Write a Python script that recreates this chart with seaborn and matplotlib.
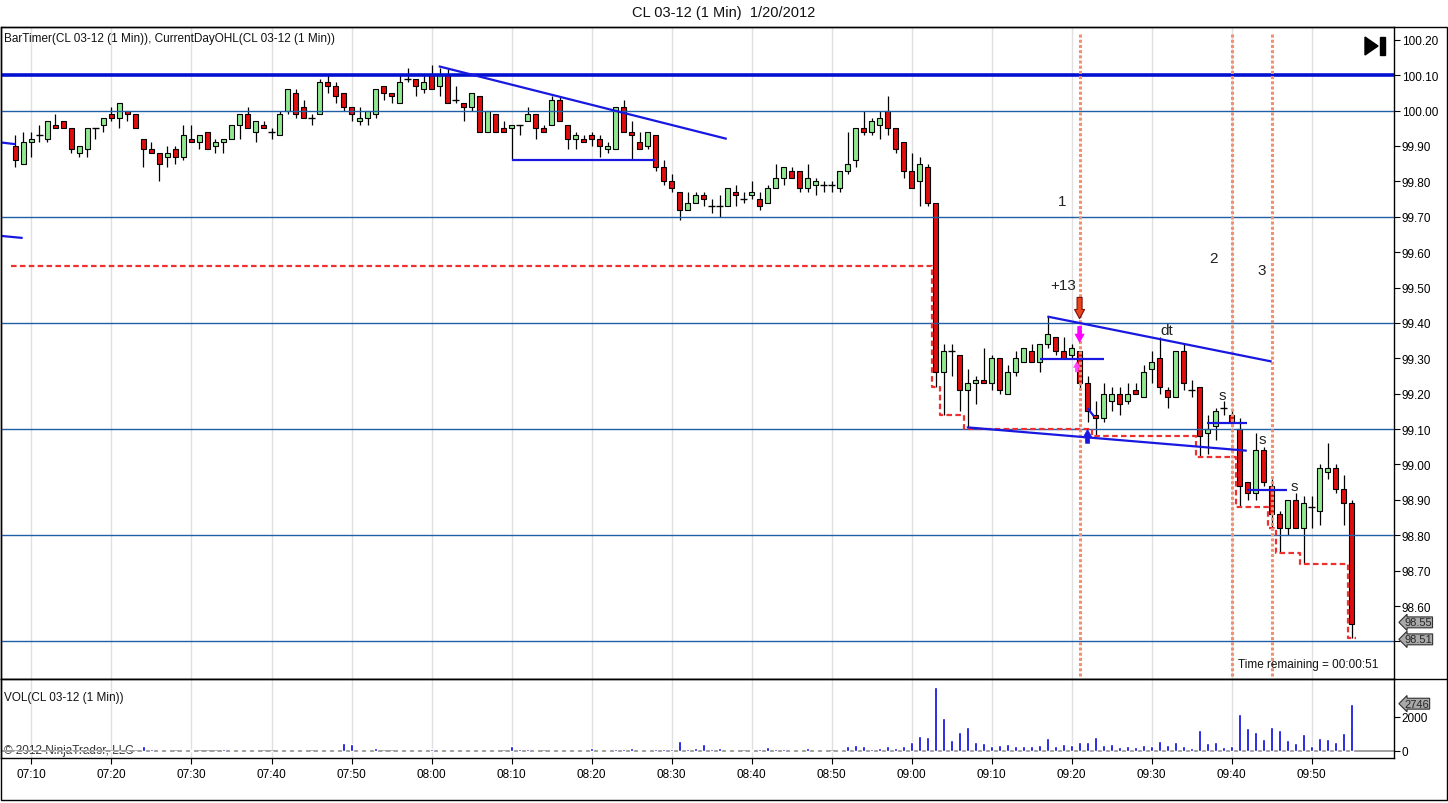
import numpy as np
import pandas as pd
import matplotlib
matplotlib.use("Agg")
import matplotlib.pyplot as plt
import matplotlib.transforms as mtransforms
from matplotlib.patches import Polygon, Rectangle
from matplotlib.lines import Line2D
import seaborn as sns

sns.set_theme(style="white")
plt.rcParams['font.family'] = ['Liberation Sans', 'DejaVu Sans']

# ---------------- data ----------------
title = "CL 03-12 (1 Min)  1/20/2012"
tick_minutes = [0, 10, 20, 30, 40, 50, 60, 70, 80, 90, 100, 110, 120, 130, 140, 150, 160]
tick_labels = ["07:10", "07:20", "07:30", "07:40", "07:50", "08:00", "08:10", "08:20", "08:30",
               "08:40", "08:50", "09:00", "09:10", "09:20", "09:30", "09:40", "09:50"]
price_ticks = [98.50, 98.60, 98.70, 98.80, 98.90, 99.00, 99.10, 99.20, 99.30, 99.40,
               99.50, 99.60, 99.70, 99.80, 99.90, 100.00, 100.10, 100.20]
price_tick_labels = ["", "98.60", "98.70", "98.80", "98.90", "99.00", "99.10", "99.20", "99.30",
                     "99.40", "99.50", "99.60", "99.70", "99.80", "99.90", "100.00", "100.10",
                     "100.20"]
first_minute = -2   # first bar is 07:08 (minutes relative to 07:10)

opens = [99.90, 99.85, 99.91, 99.93, 99.92, 99.96, 99.97, 99.95, 99.88, 99.89,
         99.95, 99.96, 99.99, 99.98, 100.00, 99.99, 99.92, 99.89, 99.88, 99.87,
         99.89, 99.87, 99.92, 99.91, 99.94, 99.90, 99.91, 99.92, 99.96, 99.99,
         99.94, 99.96, 99.94, 99.93, 100.00, 100.05, 100.01, 99.98, 99.99, 100.08,
         100.07, 100.05, 100.01, 99.97, 99.98, 99.99, 100.07, 100.05, 100.02, 100.09,
         100.09, 100.06, 100.10, 100.07, 100.10, 100.03, 100.02, 100.01, 100.04, 99.94,
         99.99, 99.95, 99.95, 99.96, 99.97, 99.99, 99.95, 99.96, 100.03, 99.96,
         99.92, 99.92, 99.93, 99.92, 99.89, 99.89, 100.01, 99.94, 99.91, 99.90,
         99.93, 99.84, 99.80, 99.77, 99.72, 99.74, 99.76, 99.73, 99.73, 99.73,
         99.77, 99.75, 99.76, 99.75, 99.74, 99.78, 99.81, 99.83, 99.83, 99.78,
         99.79, 99.79, 99.79, 99.78, 99.83, 99.86, 99.95, 99.94, 99.96, 100.00,
         99.95, 99.91, 99.83, 99.80, 99.84, 99.74, 99.26, 99.32, 99.31, 99.21,
         99.23, 99.24, 99.23, 99.30, 99.20, 99.26, 99.29, 99.32, 99.29, 99.34,
         99.36, 99.32, 99.31, 99.32, 99.23, 99.14, 99.13, 99.18, 99.20, 99.18,
         99.21, 99.19, 99.27, 99.30, 99.21, 99.19, 99.32, 99.21, 99.22, 99.09,
         99.11, 99.16, 99.14, 99.10, 98.95, 98.92, 99.04, 98.94, 98.86, 98.82,
         98.90, 98.82, 98.88, 98.87, 98.98, 98.99, 98.93, 98.89]
highs = [99.93, 99.94, 99.94, 99.96, 99.97, 99.99, 99.97, 99.95, 99.90, 99.95,
         99.95, 99.98, 100.01, 100.02, 100.00, 99.99, 99.92, 99.91, 99.88, 99.90,
         99.90, 99.96, 99.96, 99.93, 99.94, 99.92, 99.92, 99.96, 99.99, 100.01,
         99.97, 99.97, 99.95, 100.00, 100.06, 100.06, 100.03, 99.99, 100.09, 100.10,
         100.08, 100.05, 100.01, 100.01, 100.00, 100.06, 100.07, 100.05, 100.10, 100.12,
         100.09, 100.10, 100.13, 100.12, 100.12, 100.07, 100.02, 100.05, 100.04, 100.00,
         99.99, 99.97, 99.96, 99.96, 100.01, 99.99, 99.96, 100.04, 100.04, 99.96,
         99.94, 99.93, 99.94, 99.93, 99.91, 100.01, 100.03, 99.97, 99.94, 99.94,
         99.93, 99.86, 99.82, 99.77, 99.77, 99.77, 99.77, 99.75, 99.76, 99.78,
         99.79, 99.77, 99.80, 99.77, 99.79, 99.85, 99.84, 99.84, 99.83, 99.85,
         99.81, 99.80, 99.80, 99.83, 99.94, 99.95, 100.00, 99.98, 100.00, 100.04,
         99.95, 99.91, 99.88, 99.87, 99.85, 99.74, 99.34, 99.34, 99.31, 99.27,
         99.25, 99.33, 99.31, 99.30, 99.28, 99.32, 99.33, 99.34, 99.34, 99.42,
         99.36, 99.36, 99.34, 99.32, 99.25, 99.18, 99.23, 99.22, 99.22, 99.23,
         99.23, 99.28, 99.32, 99.36, 99.22, 99.32, 99.34, 99.24, 99.22, 99.14,
         99.16, 99.18, 99.15, 99.13, 98.95, 99.09, 99.05, 98.96, 98.87, 98.90,
         98.92, 98.91, 98.91, 99.00, 99.06, 99.00, 98.97, 98.90]
lows = [99.84, 99.85, 99.87, 99.91, 99.91, 99.95, 99.95, 99.88, 99.87, 99.87,
        99.92, 99.94, 99.97, 99.95, 99.97, 99.95, 99.84, 99.88, 99.80, 99.84,
        99.85, 99.86, 99.91, 99.89, 99.89, 99.88, 99.88, 99.92, 99.92, 99.95,
        99.91, 99.95, 99.92, 99.93, 99.99, 99.98, 99.98, 99.96, 99.99, 100.05,
        100.02, 100.00, 99.97, 99.96, 99.96, 99.98, 100.03, 100.02, 100.02, 100.08,
        100.04, 100.05, 100.06, 100.04, 100.02, 100.02, 99.97, 100.00, 99.94, 99.94,
        99.94, 99.94, 99.86, 99.93, 99.97, 99.92, 99.94, 99.96, 99.97, 99.89,
        99.89, 99.91, 99.90, 99.87, 99.88, 99.89, 99.94, 99.86, 99.89, 99.89,
        99.83, 99.79, 99.77, 99.69, 99.72, 99.74, 99.73, 99.71, 99.70, 99.73,
        99.73, 99.74, 99.75, 99.72, 99.74, 99.78, 99.79, 99.81, 99.77, 99.77,
        99.76, 99.77, 99.77, 99.77, 99.82, 99.84, 99.93, 99.93, 99.92, 99.93,
        99.88, 99.81, 99.78, 99.73, 99.73, 99.22, 99.14, 99.25, 99.15, 99.10,
        99.17, 99.23, 99.21, 99.20, 99.20, 99.25, 99.29, 99.29, 99.26, 99.33,
        99.31, 99.30, 99.30, 99.21, 99.12, 99.08, 99.12, 99.15, 99.14, 99.17,
        99.20, 99.19, 99.23, 99.20, 99.16, 99.19, 99.21, 99.19, 99.02, 99.03,
        99.07, 99.14, 99.12, 98.88, 98.90, 98.90, 98.94, 98.82, 98.75, 98.80,
        98.82, 98.72, 98.82, 98.83, 98.96, 98.92, 98.83, 98.51]
closes = [99.86, 99.91, 99.92, 99.93, 99.97, 99.95, 99.95, 99.89, 99.90, 99.95,
          99.95, 99.98, 99.98, 100.02, 99.99, 99.95, 99.89, 99.88, 99.85, 99.88,
          99.87, 99.93, 99.91, 99.93, 99.89, 99.91, 99.92, 99.96, 99.99, 99.95,
          99.97, 99.95, 99.94, 99.99, 100.06, 99.99, 99.98, 99.98, 100.08, 100.07,
          100.04, 100.01, 99.99, 99.98, 100.00, 100.06, 100.05, 100.04, 100.08, 100.09,
          100.07, 100.08, 100.06, 100.10, 100.02, 100.03, 100.01, 100.05, 99.94, 100.00,
          99.94, 99.94, 99.96, 99.96, 99.99, 99.95, 99.94, 100.03, 99.97, 99.92,
          99.93, 99.91, 99.92, 99.90, 99.90, 100.01, 99.94, 99.93, 99.89, 99.94,
          99.84, 99.80, 99.78, 99.72, 99.74, 99.76, 99.75, 99.73, 99.73, 99.78,
          99.76, 99.75, 99.77, 99.73, 99.78, 99.81, 99.84, 99.81, 99.78, 99.81,
          99.80, 99.79, 99.79, 99.83, 99.85, 99.95, 99.94, 99.97, 99.98, 99.95,
          99.89, 99.83, 99.78, 99.85, 99.74, 99.26, 99.32, 99.32, 99.21, 99.23,
          99.24, 99.23, 99.30, 99.21, 99.26, 99.30, 99.33, 99.29, 99.34, 99.37,
          99.32, 99.30, 99.33, 99.23, 99.15, 99.13, 99.20, 99.20, 99.17, 99.20,
          99.20, 99.26, 99.29, 99.22, 99.19, 99.32, 99.23, 99.21, 99.08, 99.10,
          99.15, 99.16, 99.12, 98.94, 98.92, 99.04, 98.95, 98.86, 98.82, 98.90,
          98.82, 98.89, 98.88, 98.99, 98.99, 98.93, 98.89, 98.55]
volumes = [8, 8, 8, 8, 8, 8, 8, 8, 8, 8,
           8, 8, 8, 8, 8, 8, 290, 100, 80, 80,
           8, 80, 80, 8, 8, 8, 100, 80, 80, 80,
           80, 8, 8, 80, 80, 80, 80, 8, 80, 80,
           80, 450, 420, 80, 80, 200, 8, 8, 80, 80,
           80, 80, 100, 80, 80, 80, 80, 80, 80, 80,
           80, 8, 290, 130, 100, 80, 8, 80, 80, 80,
           80, 80, 150, 80, 80, 100, 130, 200, 80, 80,
           100, 130, 130, 600, 130, 150, 390, 120, 155, 60,
           60, 8, 60, 120, 210, 120, 120, 60, 60, 155,
           60, 60, 8, 60, 270, 330, 270, 120, 175, 270,
           175, 270, 505, 850, 800, 3690, 1900, 640, 1090, 1380,
           505, 450, 270, 330, 390, 270, 270, 270, 330, 740,
           270, 390, 330, 505, 505, 800, 330, 390, 210, 270,
           210, 330, 270, 560, 330, 505, 270, 155, 1200, 450,
           505, 210, 270, 2140, 1320, 1090, 680, 1380, 1200, 620,
           450, 970, 270, 740, 680, 505, 1030, 2746]

prior_day_low = 99.56
level_lines = [100.00, 99.70, 99.40, 99.10, 98.80, 98.50]
thick_level = 100.10
time_markers = [131, 150, 155]
# drawn trend lines: ((bar, price), (bar, price))
trend_lines = [((50.9, 100.125), (86.9, 99.920)),
               ((60.0, 99.860), (77.9, 99.860)),
               ((-3.9, 99.910), (-2.0, 99.905)),
               ((-3.9, 99.646), (-1.1, 99.640)),
               ((126.97, 99.418), (155.0, 99.291)),
               ((126.1, 99.298), (134.0, 99.298)),
               ((116.9, 99.105), (151.9, 99.039)),
               ((146.97, 99.116), (151.9, 99.116)),
               ((151.9, 98.928), (156.9, 98.928)),
               ((132.0, 99.159), (132.8, 99.136))]
chart_labels = [("1", 128.8, 99.744), ("2", 147.8, 99.583), ("3", 153.8, 99.549),
                ("+13", 128.9, 99.507), ("dt", 141.9, 99.380), ("s", 148.8, 99.196),
                ("s", 153.9, 99.072), ("s", 157.9, 98.940)]

df = pd.DataFrame({"bar": np.arange(first_minute, first_minute + len(opens)),
                   "open": opens, "high": highs, "low": lows, "close": closes,
                   "volume": volumes})

# ---------------- figure ----------------
W, H = 1448, 804


def rect(x0, y0, x1, y1):
    return [x0 / W, 1 - y1 / H, (x1 - x0) / W, (y1 - y0) / H]


fig = plt.figure(figsize=(W / 100, H / 100), dpi=100, facecolor="white")
ax = fig.add_axes(rect(1, 28, 1394, 680))
axv = fig.add_axes(rect(1, 680, 1394, 759), sharex=ax)

GREEN = "#90e890"
RED = "#e00d0d"
FS = 8.5

# candles
o, c = df["open"].values, df["close"].values
body_lo = np.minimum(o, c)
body_h = np.abs(c - o)
colors = np.where(c > o, GREEN, RED)
ax.vlines(df["bar"], df["low"], df["high"], color="black", lw=0.9, zorder=3)
real = body_h > 0.001
ax.bar(df["bar"][real], body_h[real], bottom=body_lo[real], width=0.72,
       color=colors[real], edgecolor="black", linewidth=0.8, zorder=4)
doji = ~real
ax.hlines(df["open"][doji], df["bar"][doji] - 0.4, df["bar"][doji] + 0.4,
          color="black", lw=1.0, zorder=4)

# horizontal levels
for lvl in level_lines:
    ax.axhline(lvl, color="#1f5fa8", lw=1.0, zorder=5)
ax.axhline(thick_level, color="#0010d0", lw=2.6, zorder=5)

# current day low (running minimum)
day_low = np.minimum.accumulate(np.minimum(df["low"].values, prior_day_low))
step_x = np.append(df["bar"].values - 0.5, df["bar"].values[-1] + 0.5)
step_y = np.append(day_low, day_low[-1])
sns.lineplot(x=step_x, y=step_y, ax=ax, drawstyle="steps-post", color="#ee3030",
             lw=1.6, linestyle=(0, (2.5, 1.5)), estimator=None, sort=False, zorder=6)

# trend lines
for (x0, y0), (x1, y1) in trend_lines:
    ax.plot([x0, x1], [y0, y1], color="#1818e0", lw=1.6, zorder=7, solid_capstyle="butt")

# time markers
for m in time_markers:
    ax.axvline(m, ymin=0.005, ymax=0.99, color="#f4906f", lw=2.2,
               linestyle=(0, (1, 0.7)), zorder=6)

# labels
for s, bx, py in chart_labels:
    ax.text(bx, py, s, ha="center", va="center", fontsize=11, color="#222222", zorder=8)

# arrows
ax.annotate("", xy=(131, 99.412), xytext=(131, 99.472),
            arrowprops=dict(arrowstyle="simple,head_length=0.55,head_width=0.6,tail_width=0.3",
                            mutation_scale=12, fc="#e8441c", ec="#7a1010", lw=0.8,
                            shrinkA=0, shrinkB=0), zorder=9)
ax.annotate("", xy=(131, 99.345), xytext=(131, 99.390),
            arrowprops=dict(arrowstyle="simple,head_length=0.5,head_width=0.55,tail_width=0.22",
                            mutation_scale=12, fc="#ff00ff", ec="#ff00ff", lw=0.5,
                            shrinkA=0, shrinkB=0), zorder=9)
ax.annotate("", xy=(130.65, 99.290), xytext=(130.65, 99.262),
            arrowprops=dict(arrowstyle="simple,head_length=0.4,head_width=0.45,tail_width=0.2",
                            mutation_scale=10, fc="#ff44ff", ec="#ff44ff", lw=0.5,
                            shrinkA=0, shrinkB=0), zorder=9)
ax.annotate("", xy=(132, 99.099), xytext=(132, 99.060),
            arrowprops=dict(arrowstyle="simple,head_length=0.5,head_width=0.55,tail_width=0.25",
                            mutation_scale=12, fc="#1818e0", ec="#1818e0", lw=0.5,
                            shrinkA=0, shrinkB=0), zorder=9)

# axes / ticks price
ax.set_xlim(-3.81, 170.3)
ax.set_ylim(98.394, 100.236)
ax.yaxis.tick_right()
ax.set_yticks(price_ticks)
ax.set_yticklabels(price_tick_labels)
ax.tick_params(axis="y", direction="out", length=4, width=0.8, labelsize=FS, pad=1.5,
               colors="black", right=True, left=False)
ax.set_xticks(tick_minutes)
ax.tick_params(axis="x", bottom=False, labelbottom=False)
ax.grid(axis="x", color="#e0e0e0", lw=1.0, zorder=0)
ax.grid(axis="y", visible=False)
ax.set_axisbelow(True)
for sp in ax.spines.values():
    sp.set_color("black")
    sp.set_linewidth(1.0)
ax.set_xlabel("")
ax.set_ylabel("")

trans = mtransforms.blended_transform_factory(ax.transAxes, ax.transData)
box = dict(boxstyle="larrow,pad=0.04", fc="#a9a9a9", ec="#303030", lw=0.8)
ax.text(1.0075, df["close"].iloc[-1] + 0.004, f"{df['close'].iloc[-1]:.2f}", transform=trans,
        ha="left", va="center", fontsize=8, bbox=box, zorder=10, clip_on=False)
ax.text(1.0075, df["low"].min() - 0.004, f"{df['low'].min():.2f}", transform=trans,
        ha="left", va="center", fontsize=8, bbox=box, zorder=11, clip_on=False)

ax.text(0.002, 0.983, "BarTimer(CL 03-12 (1 Min)), CurrentDayOHL(CL 03-12 (1 Min))",
        transform=ax.transAxes, ha="left", va="center", fontsize=FS, color="#111111")
ax.text(0.989, 0.023, "Time remaining = 00:00:51", transform=ax.transAxes,
        ha="right", va="center", fontsize=FS, color="#111111", zorder=10)

# volume panel
axv.bar(df["bar"], df["volume"], width=0.28, color="#0000e0", zorder=3)
axv.axhline(0, color="#a0a0a0", lw=1.4, zorder=2)
axv.set_ylim(-410, 4180)
axv.yaxis.tick_right()
axv.set_yticks([0, 2000])
axv.set_yticklabels(["0", "2000"])
axv.tick_params(axis="y", direction="out", length=4, width=0.8, labelsize=FS, pad=1.5,
                colors="black", right=True, left=False)
axv.set_xticks(tick_minutes)
axv.set_xticklabels(tick_labels)
axv.tick_params(axis="x", direction="out", length=4, width=0.8, labelsize=FS, pad=3,
                colors="black", bottom=True)
axv.grid(axis="x", color="#e0e0e0", lw=1.0, zorder=0)
axv.grid(axis="y", visible=False)
axv.set_axisbelow(True)
for sp in axv.spines.values():
    sp.set_color("black")
    sp.set_linewidth(1.0)
transv = mtransforms.blended_transform_factory(axv.transAxes, axv.transData)
axv.text(1.0075, df["volume"].iloc[-1], f"{df['volume'].iloc[-1]}", transform=transv,
         ha="left", va="center", fontsize=8, bbox=box, zorder=10, clip_on=False)
axv.text(0.002, 0.77, "VOL(CL 03-12 (1 Min))", transform=axv.transAxes,
         ha="left", va="center", fontsize=FS, color="#111111")
axv.text(0.002, 0.10, "\u00a9 2012 NinjaTrader, LLC", transform=axv.transAxes,
         ha="left", va="center", fontsize=FS, color="#333333", zorder=1)

# title and frame
fig.text(0.5, 1 - 13 / H, title, ha="center", va="center", fontsize=10.5, color="#111111")
fig.add_artist(Rectangle((1 / W, 1 - 801 / H), 1446 / W, 773 / H, transform=fig.transFigure,
                         fill=False, ec="black", lw=1.0))
fig.add_artist(Line2D([1 / W, 1447 / W], [1 - 680 / H, 1 - 680 / H],
                      transform=fig.transFigure, color="black", lw=1.0))
fig.add_artist(Polygon([[1365 / W, 1 - 38 / H], [1365 / W, 1 - 56 / H], [1378 / W, 1 - 47 / H]],
                       closed=True, transform=fig.transFigure, fc="black", ec="black"))
fig.add_artist(Rectangle((1380 / W, 1 - 56 / H), 5 / W, 18 / H, transform=fig.transFigure,
                         fc="black", ec="black"))

fig.savefig("out.png", dpi=100, facecolor="white")
